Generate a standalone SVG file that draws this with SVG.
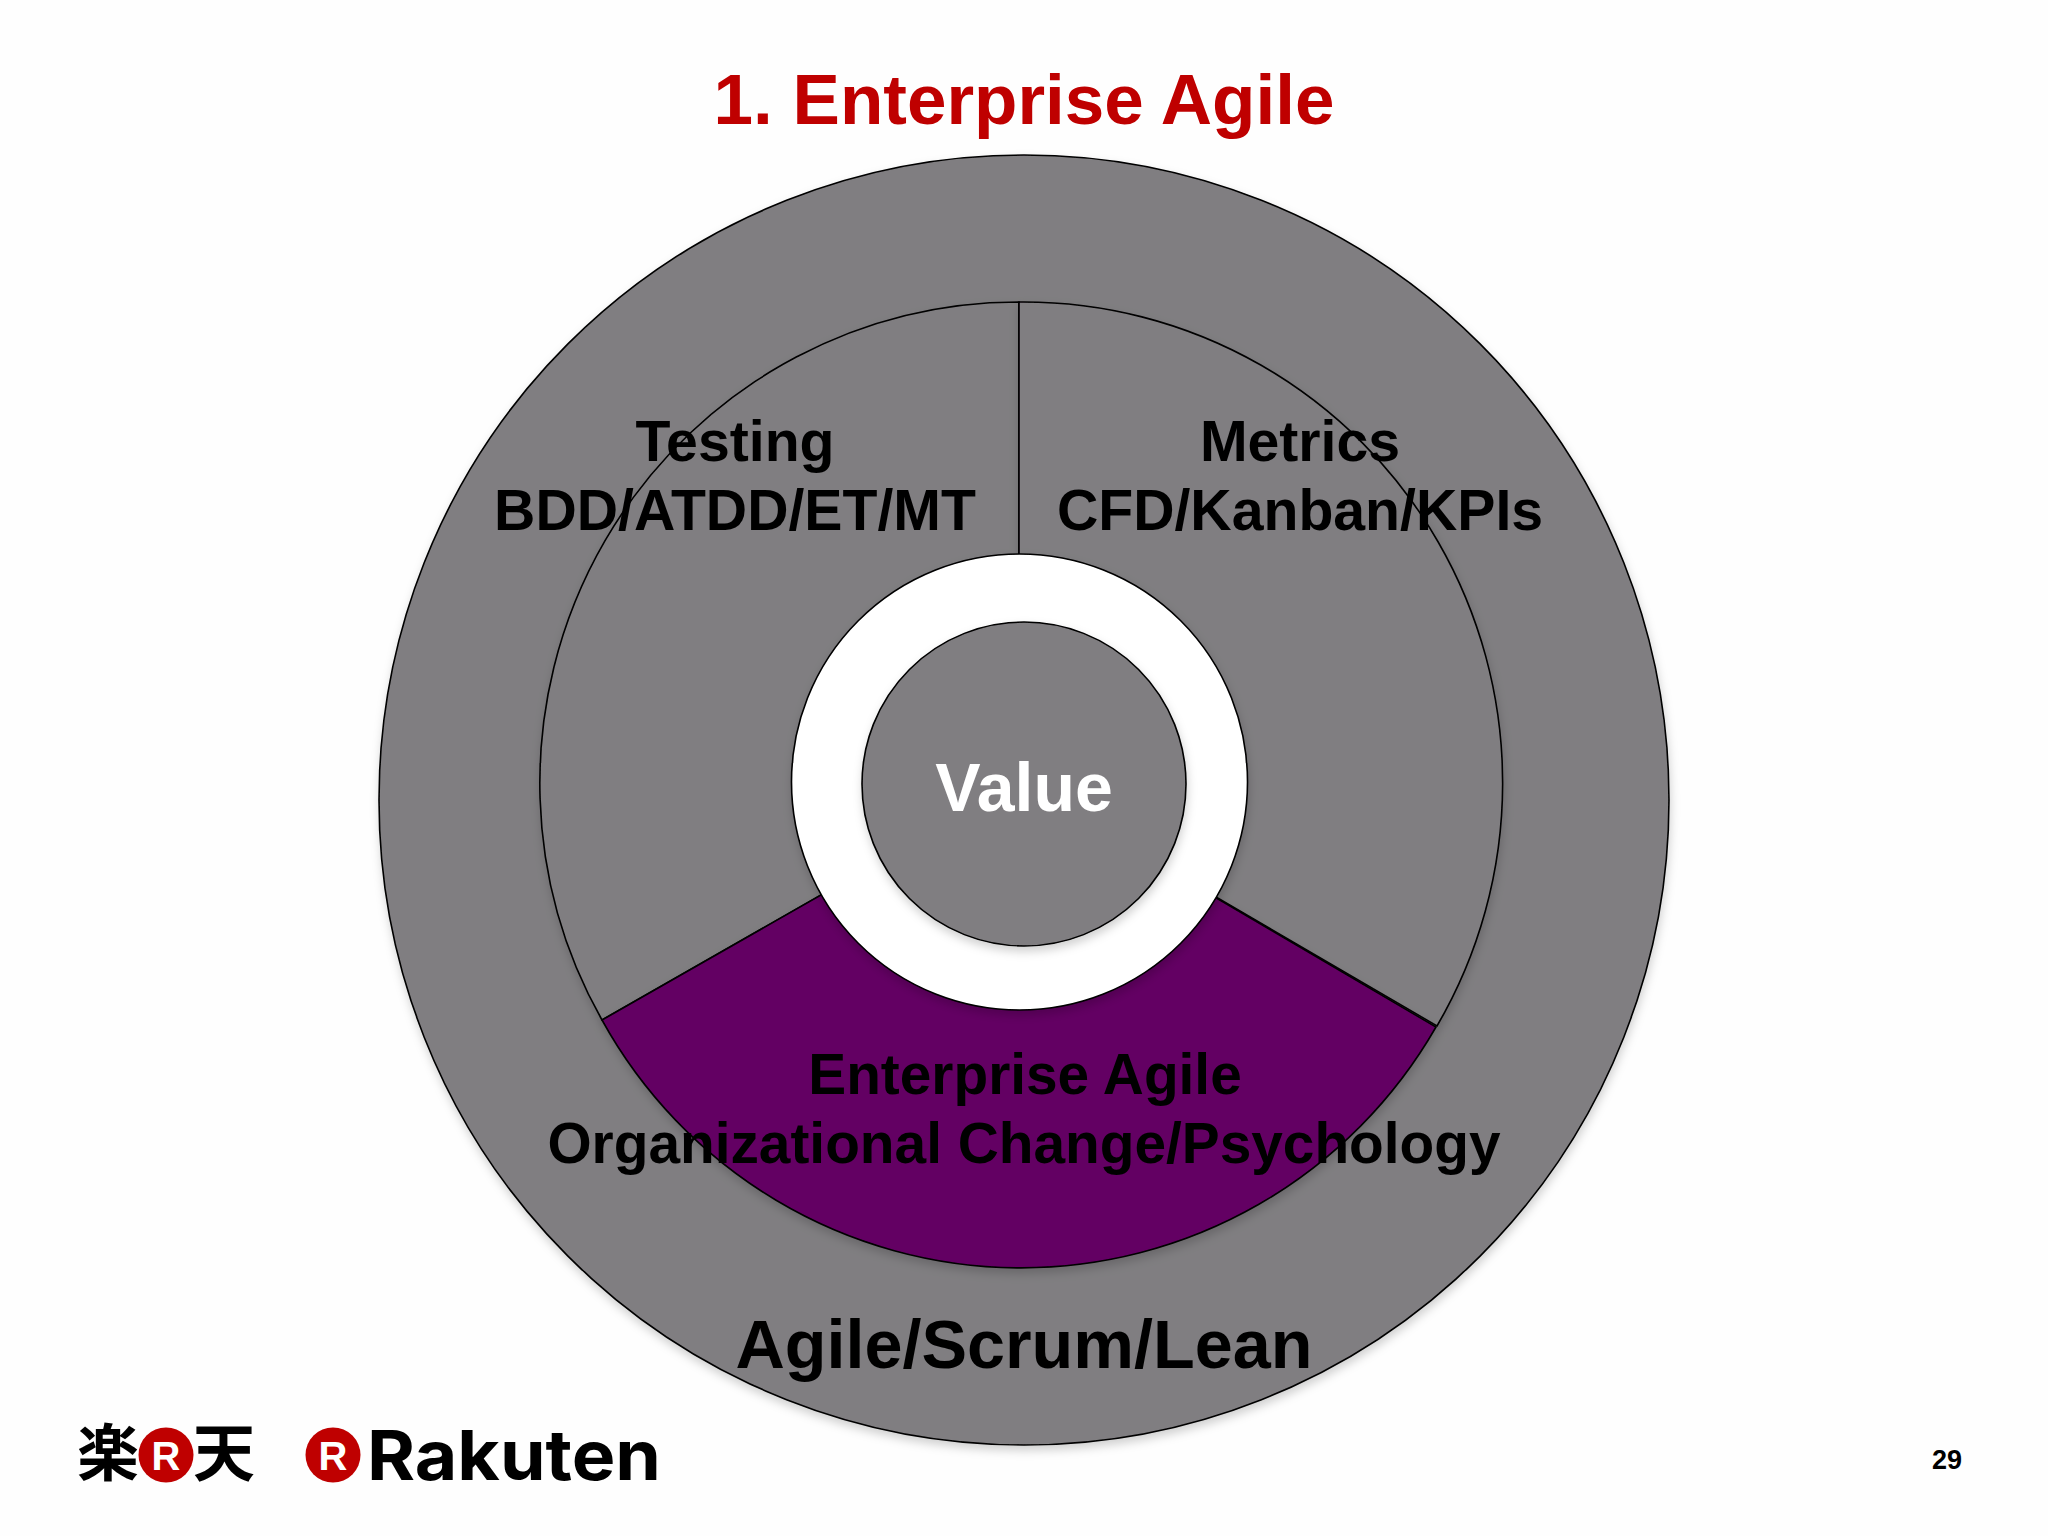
<svg xmlns="http://www.w3.org/2000/svg" width="2048" height="1536" viewBox="0 0 2048 1536">
<defs>
<filter id="sh" x="-5%" y="-5%" width="110%" height="110%"><feDropShadow dx="1" dy="5" stdDeviation="5" flood-color="#000" flood-opacity="0.18"/></filter>
</defs>
<style>
.g{fill:#807e81;stroke:#000;stroke-width:1.6}
.p{fill:#640064;stroke:#000;stroke-width:1.6}
.t{font-family:"Liberation Sans",Arial,sans-serif;font-weight:700;text-anchor:middle;fill:#000}
.s{font-size:57.2px}
.c{font-family:"Noto Sans CJK JP",sans-serif;font-size:62px;font-weight:700;text-anchor:middle;fill:#000}
.r{fill:#bf0000}
.rw{font-family:"Liberation Sans",Arial,sans-serif;font-weight:700;font-size:40px;text-anchor:middle;fill:#fff}
</style>
<rect width="2048" height="1536" fill="#fefefe"/>
<g id="outer" filter="url(#sh)"><circle class="g" cx="1024" cy="800" r="645"/></g>
<g id="testing" filter="url(#sh)"><path class="g" d="M1019,302A479,481 0 0 0 602,1020L1019,782Z"/></g>
<g id="metrics" filter="url(#sh)"><path class="g" d="M1019,302A479,481 0 0 1 1437,1026L1019,782Z"/></g>
<g id="enterprise" filter="url(#sh)"><path class="p" d="M602,1020L1019,782L1436,1027A479,481 0 0 1 602,1020Z"/></g>
<g id="hole" filter="url(#sh)"><circle cx="1019.5" cy="782" r="228" fill="#fff" stroke="#000" stroke-width="1.6"/></g>
<g id="value" filter="url(#sh)"><circle class="g" cx="1024" cy="784" r="162"/></g>
<g id="labels">
<text class="t" x="1024" y="124" font-size="71" style="fill:#bf0000">1. Enterprise Agile</text>
<text class="t s" x="735" y="461">Testing</text>
<text class="t s" x="735" y="530">BDD/ATDD/ET/MT</text>
<text class="t s" x="1300" y="461">Metrics</text>
<text class="t s" x="1300" y="530">CFD/Kanban/KPIs</text>
<text class="t" x="1024" y="811" font-size="68" style="fill:#fff">Value</text>
<text class="t" x="1025" y="1094" font-size="56.8">Enterprise Agile</text>
<text class="t" x="1024" y="1163" font-size="56.8">Organizational Change/Psychology</text>
<text class="t" x="1024" y="1368" font-size="68.3">Agile/Scrum/Lean</text>
<text class="t" x="1947" y="1469" font-size="27">29</text>
</g>
<g id="logo-jp">
<text class="c" x="108" y="1476">楽</text>
<circle class="r" cx="166" cy="1455" r="27.5"/>
<text class="rw" x="166" y="1470">R</text>
<text class="c" x="224" y="1476">天</text>
</g>
<g id="logo-en">
<circle class="r" cx="333" cy="1455" r="27.5"/>
<text class="rw" x="333" y="1470">R</text>
<text x="367" y="1480" font-family="Inter,sans-serif" font-weight="700" font-size="69" textLength="294" lengthAdjust="spacingAndGlyphs" fill="#000">Rakuten</text>
</g>
</svg>
